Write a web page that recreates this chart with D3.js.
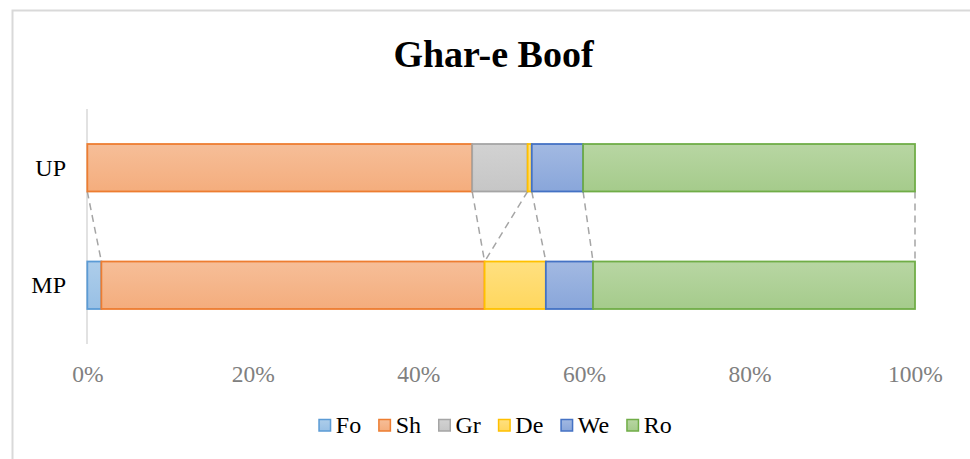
<!DOCTYPE html>
<html><head><meta charset="utf-8">
<script src="https://cdn.jsdelivr.net/npm/d3@7"></script>
<style>html,body{margin:0;padding:0;background:#fff;}svg{display:block;}</style>
</head><body>
<svg id="chart" width="970" height="459"></svg>
<script>
const categories = ["UP", "MP"];
const seriesNames = ["Fo", "Sh", "Gr", "De", "We", "Ro"];
const seriesColors = ["#5B9BD5", "#ED7D31", "#A5A5A5", "#FFC000", "#4472C4", "#70AD47"];
const valuesUP = [0, 46.5, 6.7, 0.5, 6.2, 40.1];
const valuesMP = [1.7, 46.3, 0, 7.4, 5.7, 38.9];
const tickValues = [0, 0.2, 0.4, 0.6, 0.8, 1.0];
const title = "Ghar-e Boof";

const svg = d3.select("#chart");
const font = "'Liberation Serif','Times New Roman',serif";

// outer border
svg.append("rect").attr("x", 12.5).attr("y", 10.5).attr("width", 980).attr("height", 470)
  .attr("fill", "none").attr("stroke", "#d9d9d9").attr("stroke-width", 2);

svg.append("text").attr("x", 493.5).attr("y", 66.5).attr("text-anchor", "middle")
  .style("font-family", font).style("font-weight", "bold").style("font-size", "38px")
  .attr("fill", "#000").text(title);

const x = d3.scaleLinear().domain([0, 1]).range([87.3, 915]);
const y = d3.scaleBand().domain(categories).range([109, 344]).paddingInner(0.596).paddingOuter(0.298);

const valuesByCat = { UP: valuesUP, MP: valuesMP };
const stacked = {};
categories.forEach(c => {
  const vals = valuesByCat[c];
  const tot = d3.sum(vals);
  let acc = 0;
  stacked[c] = vals.map((v, i) => { const s = acc / tot; acc += v; return { i, x0: s, x1: acc / tot, v }; });
});

// gradients
const defs = svg.append("defs");
seriesColors.forEach((col, i) => {
  const g = defs.append("linearGradient").attr("id", "g" + i).attr("x1", 0).attr("y1", 0).attr("x2", 0).attr("y2", 1);
  g.append("stop").attr("offset", "0%").attr("stop-color", d3.interpolateRgb(col, "#fff")(0.5));
  g.append("stop").attr("offset", "100%").attr("stop-color", d3.interpolateRgb(col, "#fff")(0.37));
});

// y axis line
svg.append("line").attr("x1", 87).attr("x2", 87).attr("y1", 109).attr("y2", 344)
  .attr("stroke", "#d9d9d9").attr("stroke-width", 1.5);

// series lines (dashed connectors)
const bottomUP = y("UP") + y.bandwidth();
const topMP = y("MP");
seriesNames.forEach((s, i) => {
  svg.append("line")
    .attr("x1", x(stacked.UP[i].x1)).attr("y1", bottomUP)
    .attr("x2", x(stacked.MP[i].x1)).attr("y2", topMP)
    .attr("stroke", "#a5a5a5").attr("stroke-width", 1.5).attr("stroke-dasharray", "7,5");
});

// bars
categories.forEach(c => {
  svg.append("g").selectAll("rect").data(stacked[c].filter(d => d.v > 0)).join("rect")
    .attr("x", d => x(d.x0)).attr("y", y(c))
    .attr("width", d => x(d.x1) - x(d.x0)).attr("height", y.bandwidth())
    .attr("fill", d => `url(#g${d.i})`).attr("stroke", d => seriesColors[d.i]).attr("stroke-width", 1.8);
});

// category labels
categories.forEach(c => {
  svg.append("text").attr("x", 66).attr("y", y(c) + y.bandwidth() / 2 + 8).attr("text-anchor", "end")
    .style("font-family", font).style("font-size", "24px").attr("fill", "#000").text(c);
});

// x axis labels
const xAxis = d3.axisBottom(x).tickValues(tickValues).tickFormat(d3.format(".0%")).tickSize(0).tickPadding(0);
const ax = svg.append("g").attr("transform", "translate(0,382)").call(xAxis);
ax.select(".domain").remove();
ax.selectAll("text").attr("dy", 0).attr("y", 0)
  .style("font-family", font).style("font-size", "23.5px").attr("fill", "#808080");

// legend
const leg = svg.append("g");
let lx = 0;
const items = [];
seriesNames.forEach((s, i) => {
  const g = leg.append("g");
  g.append("rect").attr("x", 0.75).attr("y", -13).attr("width", 11.5).attr("height", 11.5)
    .attr("fill", `url(#g${i})`).attr("stroke", seriesColors[i]).attr("stroke-width", 1.5);
  const t = g.append("text").attr("x", 17.5).attr("y", 0).style("font-family", font).style("font-size", "24px")
    .attr("fill", "#000").text(s);
  const w = t.node().getComputedTextLength();
  items.push({ g, w });
});
items.forEach((it, i) => {
  it.g.attr("transform", `translate(${lx},0)`);
  lx += 17.5 + it.w + (i < items.length - 1 ? 17 : 0);
});
leg.attr("transform", `translate(${495 - lx / 2},432.5)`);
</script>
</body></html>
